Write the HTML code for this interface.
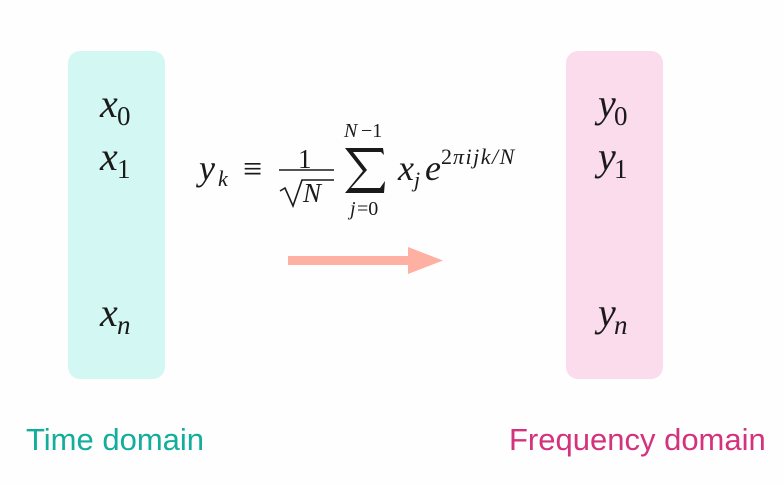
<!DOCTYPE html>
<html><head><meta charset="utf-8"><style>
html,body{margin:0;padding:0;background:#fefefe;}
svg{display:block}
.m{font-family:"Liberation Serif",serif;font-style:italic;fill:#1a1a1a}
.r{font-family:"Liberation Serif",serif;fill:#1a1a1a}
.s{font-family:"Liberation Sans",sans-serif}
</style></head><body>
<svg width="783" height="485" viewBox="0 0 783 485" xmlns="http://www.w3.org/2000/svg">
<rect width="783" height="485" fill="#fefefe"/>
<rect x="68" y="51" width="97" height="328" rx="12" fill="#d3f8f4"/>
<rect x="566" y="51" width="97" height="328" rx="12" fill="#fadcec"/>
<!-- left labels -->
<text class="m" x="100" y="117" font-size="40">x</text><text class="r" x="117" y="125" font-size="27">0</text>
<text class="m" x="100" y="170" font-size="40">x</text><text class="r" x="117" y="178" font-size="27">1</text>
<text class="m" x="100" y="326" font-size="40">x</text><text class="m" x="117" y="334" font-size="27">n</text>
<!-- right labels -->
<text class="m" x="598" y="117" font-size="40">y</text><text class="r" x="614" y="125" font-size="27">0</text>
<text class="m" x="598" y="170" font-size="40">y</text><text class="r" x="614" y="178" font-size="27">1</text>
<text class="m" x="598" y="326" font-size="40">y</text><text class="m" x="614" y="334" font-size="27">n</text>
<!-- formula -->
<text class="m" x="199" y="180" font-size="36">y</text><text class="m" x="218" y="186" font-size="22">k</text>
<text class="r" x="243" y="180" font-size="34">≡</text>
<text class="r" x="298" y="168" font-size="27">1</text>
<line x1="279" y1="170" x2="334" y2="170" stroke="#1a1a1a" stroke-width="1.4"/>
<path d="M280 191 L285 188 L293 206 L302 180 L334 180" fill="none" stroke="#1a1a1a" stroke-width="1.6"/>
<text class="m" x="303" y="202" font-size="27">N</text>
<text class="m" x="344" y="137" font-size="20">N</text><text class="r" x="361" y="137" font-size="20">−1</text>
<path d="M345 148 L383 148 L384 155 L381 152 L353 152 L367 170 L351 188 L380 188 L385 181 L384 193 L345 193 L363 171 Z" fill="#1a1a1a"/>
<text class="m" x="350" y="215" font-size="20">j</text><text class="r" x="357" y="215" font-size="20">=0</text>
<text class="m" x="398" y="180" font-size="36">x</text><text class="m" x="414" y="187" font-size="22">j</text>
<text class="m" x="425" y="180" font-size="36">e</text>
<text class="r" x="441" y="164" font-size="22">2</text><text class="m" x="453" y="164" font-size="22" letter-spacing="1.5">πijk/N</text>
<!-- arrow -->
<rect x="288" y="256" width="124" height="9" fill="#feb0a3"/>
<polygon points="408,247 443,260.5 408,274" fill="#feb0a3"/>
<!-- captions -->
<text class="s" x="26" y="450" font-size="31" fill="#13ad9c">Time domain</text>
<text class="s" x="509" y="450" font-size="31" fill="#d3327c">Frequency domain</text>
</svg>
</body></html>
